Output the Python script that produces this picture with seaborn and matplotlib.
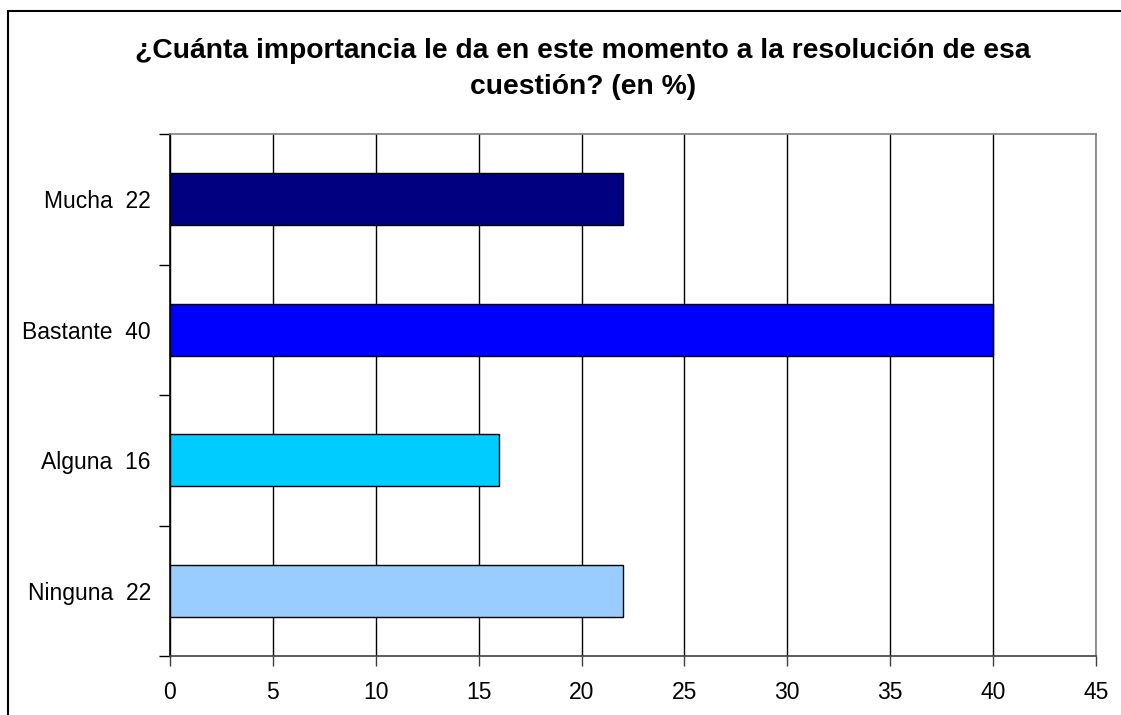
import matplotlib
matplotlib.use("Agg")
import matplotlib.pyplot as plt
import seaborn as sns
import pandas as pd
from matplotlib.patches import Rectangle

categories = ["Mucha  22", "Bastante  40", "Alguna  16", "Ninguna  22"]
values = [22, 40, 16, 22]
colors = ["#000080", "#0000FF", "#00CCFF", "#99CCFF"]
xticks = [0, 5, 10, 15, 20, 25, 30, 35, 40, 45]
title = "¿Cuánta importancia le da en este momento a la resolución de esa\ncuestión? (en %)"

sns.set_theme(style="white")
plt.rcParams["font.family"] = ["Liberation Sans", "DejaVu Sans"]
plt.rcParams["text.color"] = "black"
plt.rcParams["xtick.color"] = "black"
plt.rcParams["ytick.color"] = "black"

df = pd.DataFrame({"cat": categories, "val": values})

fig = plt.figure(figsize=(11.21, 7.15), dpi=100)
ax = fig.add_axes([170/1121, 1 - 656/715, (1096-170)/1121, (656-134)/715])

sns.barplot(data=df, y="cat", x="val", hue="cat", palette=colors, order=categories,
            hue_order=categories, legend=False, width=0.4, edgecolor="black",
            linewidth=1.0, ax=ax, zorder=3, saturation=1)

ax.set_xlim(0, 45)
ax.set_ylim(3.5, -0.5)
ax.set_xticks(xticks)
ax.set_xticklabels([str(t) for t in xticks])
ax.set_yticks(range(len(categories)))
ax.set_yticklabels(categories)
ax.set_yticks([-0.5, 0.5, 1.5, 2.5, 3.5], minor=True)
ax.tick_params(axis="y", which="major", length=0, pad=13.7, labelsize=16.5, labelcolor="black")
ax.tick_params(axis="y", which="minor", length=8, width=1, direction="out", color="black", left=True)
ax.tick_params(axis="x", which="major", length=7, width=1, direction="out", color="#404040",
               bottom=True, pad=11, labelsize=16.5, labelcolor="black")
ax.set_xlabel("")
ax.set_ylabel("")

ax.grid(axis="x", color="black", linewidth=1.0, zorder=0)
ax.set_axisbelow(True)
for side in ["top", "right"]:
    ax.spines[side].set_color("#808080")
    ax.spines[side].set_linewidth(1.2)
ax.spines["left"].set_color("black")
ax.spines["left"].set_linewidth(1.2)
ax.spines["bottom"].set_color("#404040")
ax.spines["bottom"].set_linewidth(1.2)

fig.text(583/1121, 1 - 69/715, title, ha="center", va="center", color="black",
         fontsize=20.3, fontweight="bold", linespacing=1.47)

fig.patches.append(Rectangle((8/1121, -0.1), 1.2, 1 - 11/715 + 0.1,
                             transform=fig.transFigure, fill=False, edgecolor="black",
                             linewidth=1.5, clip_on=False))

fig.savefig("out.png", dpi=100)
